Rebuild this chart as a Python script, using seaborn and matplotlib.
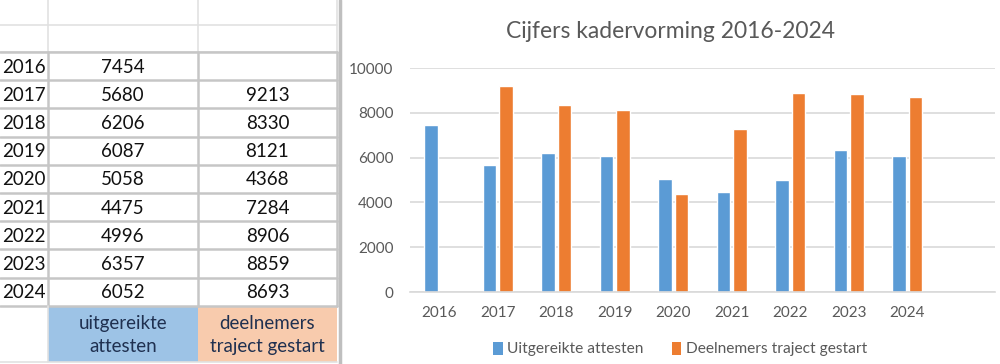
import numpy as np
import pandas as pd
import matplotlib
matplotlib.use("Agg")
import matplotlib.pyplot as plt
import seaborn as sns
from matplotlib.patches import Rectangle, Patch

years = ["2016", "2017", "2018", "2019", "2020", "2021", "2022", "2023", "2024"]
attesten = [7454, 5680, 6206, 6087, 5058, 4475, 4996, 6357, 6052]
deelnemers = [np.nan, 9213, 8330, 8121, 4368, 7284, 8906, 8859, 8693]
series_names = ["Uitgereikte attesten", "Deelnemers traject gestart"]
table_headers = ["uitgereikte\nattesten", "deelnemers\ntraject gestart"]
title = "Cijfers kadervorming 2016-2024"
yticks = [0, 2000, 4000, 6000, 8000, 10000]

BLUE = "#5B9BD5"
ORANGE = "#ED7D31"
GRAY = "#595959"
GRID = "#D9D9D9"

sns.set_theme(style="white")
plt.rcParams["font.family"] = ["Lato", "DejaVu Sans"]

df = pd.DataFrame({
    "year": years * 2,
    "series": [series_names[0]] * len(years) + [series_names[1]] * len(years),
    "value": attesten + deelnemers,
})

fig = plt.figure(figsize=(10, 3.64), dpi=100)

# ---------- spreadsheet part (pixel coordinates) ----------
bg = fig.add_axes([0, 0, 1, 1])
bg.set_xlim(0, 1000)
bg.set_ylim(364, 0)
bg.axis("off")

col_x = [0, 48, 198, 337]
row_top = [0, 25, 52]
rh = 28.2
data_rows = [52 + rh * i for i in range(len(years) + 1)]
hdr_bottom = 362

bg.add_patch(Rectangle((col_x[1], data_rows[-1]), col_x[2] - col_x[1], hdr_bottom - data_rows[-1],
                       facecolor="#9DC3E6", edgecolor="none", zorder=1))
bg.add_patch(Rectangle((col_x[2], data_rows[-1]), col_x[3] - col_x[2], hdr_bottom - data_rows[-1],
                       facecolor="#F8CBAD", edgecolor="none", zorder=1))

light = "#E1E1E1"
mid = "#C6C6C6"
for y in row_top[1:]:
    bg.plot([0, col_x[3]], [y, y], color=light, lw=1.2, zorder=2)
for x in col_x[1:]:
    bg.plot([x, x], [0, data_rows[0]], color=light, lw=1.2, zorder=2)
for y in data_rows:
    bg.plot([0, col_x[3]], [y, y], color=mid, lw=1.8, zorder=2)
for x in col_x[1:]:
    bg.plot([x, x], [data_rows[0], data_rows[-1]], color=mid, lw=1.8, zorder=2)
bg.plot([col_x[1], col_x[1]], [data_rows[-1], hdr_bottom], color=light, lw=1.2, zorder=2)
bg.plot([0, col_x[3]], [hdr_bottom, hdr_bottom], color=light, lw=1.2, zorder=2)
bg.plot([340, 340], [0, 364], color="#BFBFBF", lw=2.5, zorder=2)

TFS = 13.5
for i, (yr, a, d) in enumerate(zip(years, attesten, deelnemers)):
    yc = data_rows[i] + rh / 2 + 1
    bg.text(2, yc, yr, ha="left", va="center", fontsize=TFS, color="#111111", zorder=3)
    bg.text((col_x[1] + col_x[2]) / 2, yc, f"{a}", ha="center", va="center",
            fontsize=TFS, color="#111111", zorder=3)
    if not np.isnan(d):
        bg.text((col_x[2] + col_x[3]) / 2, yc, f"{int(d)}", ha="center", va="center",
                fontsize=TFS, color="#111111", zorder=3)

hy = (data_rows[-1] + hdr_bottom) / 2 + 1
bg.text((col_x[1] + col_x[2]) / 2, hy, table_headers[0], ha="center", va="center",
        fontsize=TFS, color="#1F3050", linespacing=1.4, zorder=3)
bg.text((col_x[2] + col_x[3]) / 2, hy, table_headers[1], ha="center", va="center",
        fontsize=TFS, color="#1F3050", linespacing=1.4, zorder=3)

# ---------- chart part ----------
ax = fig.add_axes([0.41, 1 - 292 / 364, 0.585, (292 - 68) / 364])
ax.set_facecolor("none")
sns.barplot(data=df, x="year", y="value", hue="series", order=years,
            hue_order=series_names, palette=[BLUE, ORANGE],
            width=0.57, gap=0.2, saturation=1, errorbar=None, ax=ax, legend=False)

ax.set_xlim(-0.5, 9.5)
ax.set_ylim(0, 10000)
ax.set_yticks(yticks)
ax.set_yticklabels([str(v) for v in yticks])
ax.set_xlabel("")
ax.set_ylabel("")
for s in ["top", "right", "left"]:
    ax.spines[s].set_visible(False)
ax.spines["bottom"].set_color(GRID)
ax.spines["bottom"].set_linewidth(1.2)
ax.yaxis.grid(True, color=GRID, lw=1.2)
ax.set_axisbelow(True)
ax.tick_params(axis="both", length=0, labelsize=11, colors=GRAY)
ax.tick_params(axis="y", pad=12)
ax.tick_params(axis="x", pad=10)

fig.text(0.67, 1 - 31 / 364, title, ha="center", va="center", fontsize=16.5, color=GRAY)

handles = [Patch(facecolor=BLUE, edgecolor="none"), Patch(facecolor=ORANGE, edgecolor="none")]
fig.legend(handles, series_names, loc="center", bbox_to_anchor=(0.68, 1 - 349 / 364),
           ncol=2, frameon=False, fontsize=11.2, labelcolor=GRAY,
           handlelength=0.6, handleheight=0.9, handletextpad=0.3, columnspacing=1.8)

fig.savefig("out.png", dpi=100)
